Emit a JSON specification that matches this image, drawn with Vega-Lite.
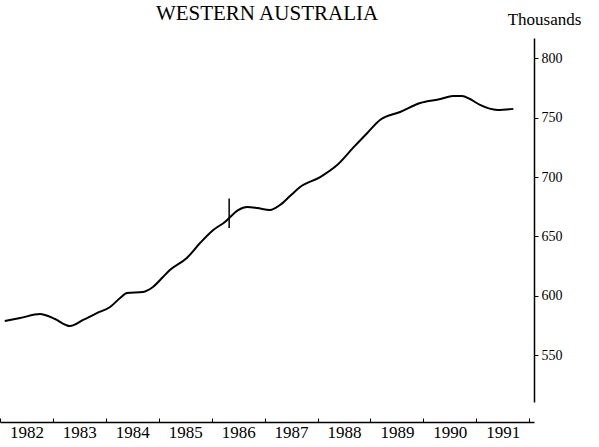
{
  "$schema": "https://vega.github.io/schema/vega-lite/v6.json",
  "width": 534,
  "height": 364,
  "autosize": {"type": "none"},
  "padding": {"left": 0, "top": 38, "right": 65, "bottom": 45},
  "background": "white",
  "config": {"view": {"stroke": null}, "font": "Liberation Serif"},
  "title": {"text": "WESTERN AUSTRALIA", "fontSize": 21, "font": "Liberation Serif", "fontWeight": "normal", "offset": 0, "dy": 14, "anchor": "middle", "color": "black"},
  "datasets": {
    "series": [
      {"year": 1982.09, "value": 578.7},
      {"year": 1982.38, "value": 581.2},
      {"year": 1982.76, "value": 584.6},
      {"year": 1982.85, "value": 583.8},
      {"year": 1983.04, "value": 580.4},
      {"year": 1983.32, "value": 574.5},
      {"year": 1983.57, "value": 579.6},
      {"year": 1983.83, "value": 585.4},
      {"year": 1984.08, "value": 590.5},
      {"year": 1984.27, "value": 598.1},
      {"year": 1984.40, "value": 602.3},
      {"year": 1984.70, "value": 603.2},
      {"year": 1984.89, "value": 607.4},
      {"year": 1985.08, "value": 615.8},
      {"year": 1985.21, "value": 621.7},
      {"year": 1985.53, "value": 631.8},
      {"year": 1985.78, "value": 644.4},
      {"year": 1986.03, "value": 655.4},
      {"year": 1986.25, "value": 662.1},
      {"year": 1986.50, "value": 672.2},
      {"year": 1986.67, "value": 674.7},
      {"year": 1986.86, "value": 673.9},
      {"year": 1987.10, "value": 672.2},
      {"year": 1987.29, "value": 676.4},
      {"year": 1987.48, "value": 684.0},
      {"year": 1987.67, "value": 691.6},
      {"year": 1988.05, "value": 700.0},
      {"year": 1988.37, "value": 710.1},
      {"year": 1988.67, "value": 724.5},
      {"year": 1988.94, "value": 737.1},
      {"year": 1989.18, "value": 748.0},
      {"year": 1989.56, "value": 754.8},
      {"year": 1989.94, "value": 762.4},
      {"year": 1990.32, "value": 765.7},
      {"year": 1990.56, "value": 768.3},
      {"year": 1990.73, "value": 768.3},
      {"year": 1990.88, "value": 765.7},
      {"year": 1991.07, "value": 760.7},
      {"year": 1991.40, "value": 756.5},
      {"year": 1991.70, "value": 757.4}
    ],
    "marker": [
      {"year": 1986.33, "lo": 657, "hi": 682}
    ]
  },
  "layer": [
    {
      "data": {"name": "series"},
      "mark": {"type": "line", "color": "black", "strokeWidth": 2, "interpolate": "monotone"},
      "encoding": {
        "x": {
          "field": "year", "type": "quantitative",
          "scale": {"domain": [1982, 1992.09], "nice": false, "zero": false},
          "axis": {
            "orient": "bottom", "offset": 20,
            "values": [1982, 1983, 1984, 1985, 1986, 1987, 1988, 1989, 1990, 1991, 1992],
            "labelExpr": "datum.value >= 1992 ? '' : format(datum.value, 'd')",
            "labelOffset": 26.45, "tickSize": -4, "grid": false, "title": null,
            "labelFont": "Liberation Serif", "labelFontSize": 17, "labelColor": "black",
            "domainColor": "black", "tickColor": "black", "labelPadding": 6,
            "labelOverlap": false, "labelFlush": false, "labelBound": false, "domainWidth": 1.5
          }
        },
        "y": {
          "field": "value", "type": "quantitative",
          "scale": {"domain": [510.5, 817.1], "nice": false, "zero": false},
          "axis": {
            "orient": "right", "values": [550, 600, 650, 700, 750, 800],
            "tickSize": 4, "labelPadding": 3, "grid": false,
            "title": "Thousands", "titleAngle": 0, "titleX": 10, "titleY": -19,
            "titleAlign": "center", "titleBaseline": "middle",
            "titleFont": "Liberation Serif", "titleFontSize": 17, "titleFontWeight": "normal", "titleColor": "black",
            "labelFont": "Liberation Serif", "labelFontSize": 14, "labelColor": "black",
            "domainColor": "black", "tickColor": "black", "domainWidth": 1.5
          }
        }
      }
    },
    {
      "data": {"name": "marker"},
      "mark": {"type": "rule", "color": "black", "strokeWidth": 1.5},
      "encoding": {
        "x": {"field": "year", "type": "quantitative"},
        "y": {"field": "lo", "type": "quantitative"},
        "y2": {"field": "hi"}
      }
    }
  ]
}
